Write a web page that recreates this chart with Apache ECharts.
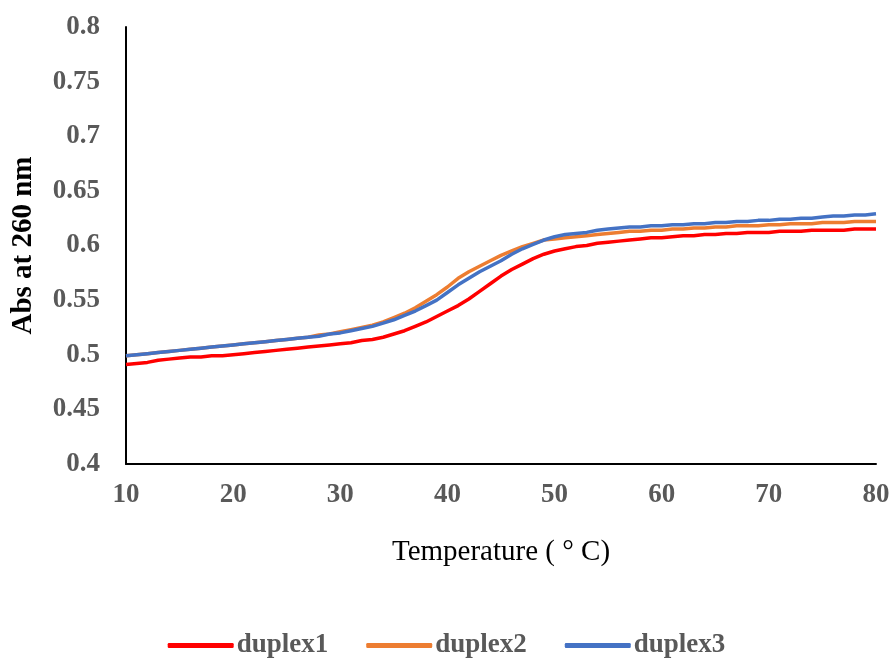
<!DOCTYPE html>
<html>
<head>
<meta charset="utf-8">
<script src="https://cdn.jsdelivr.net/npm/echarts@6/dist/echarts.min.js"></script>
<style>html,body{margin:0;padding:0;background:#fff}#c{width:893px;height:659px}</style>
</head>
<body>
<div id="c"></div>
<script>
const temperature = [];
for (let t = 10; t <= 80; t++) temperature.push(t);

const duplex1 = [0.491,0.492,0.493,0.495,0.496,0.497,0.498,0.498,0.499,0.499,
0.500,0.501,0.502,0.503,0.504,0.505,0.506,0.507,0.508,0.509,
0.510,0.511,0.513,0.514,0.516,0.519,0.522,0.526,0.530,0.535,
0.540,0.545,0.551,0.558,0.565,0.572,0.578,0.583,0.588,0.592,
0.595,0.597,0.599,0.600,0.602,0.603,0.604,0.605,0.606,0.607,
0.607,0.608,0.609,0.609,0.610,0.610,0.611,0.611,0.612,0.612,
0.612,0.613,0.613,0.613,0.614,0.614,0.614,0.614,0.615,0.615,0.615];

const duplex2 = [0.499,0.500,0.501,0.502,0.503,0.504,0.505,0.506,0.507,0.508,
0.509,0.510,0.511,0.512,0.513,0.514,0.515,0.516,0.518,0.519,
0.521,0.523,0.525,0.527,0.530,0.534,0.538,0.543,0.549,0.555,
0.562,0.570,0.576,0.581,0.586,0.591,0.595,0.599,0.602,0.605,
0.606,0.607,0.608,0.609,0.610,0.611,0.612,0.613,0.613,0.614,
0.614,0.615,0.615,0.616,0.616,0.617,0.617,0.618,0.618,0.618,
0.619,0.619,0.620,0.620,0.620,0.621,0.621,0.621,0.622,0.622,0.622];

const duplex3 = [0.499,0.500,0.501,0.502,0.503,0.504,0.505,0.506,0.507,0.508,
0.509,0.510,0.511,0.512,0.513,0.514,0.515,0.516,0.517,0.519,
0.520,0.522,0.524,0.526,0.529,0.532,0.536,0.540,0.545,0.550,
0.557,0.564,0.570,0.576,0.581,0.586,0.592,0.597,0.601,0.605,
0.608,0.610,0.611,0.612,0.614,0.615,0.616,0.617,0.617,0.618,
0.618,0.619,0.619,0.620,0.620,0.621,0.621,0.622,0.622,0.623,
0.623,0.624,0.624,0.625,0.625,0.626,0.627,0.627,0.628,0.628,0.629];

const seriesNames = ['duplex1','duplex2','duplex3'];
const seriesData = [duplex1, duplex2, duplex3];
const colors = ['#FF0000','#ED7D31','#4472C4'];

const serif = '"Liberation Serif","Times New Roman",serif';
const chart = echarts.init(document.getElementById('c'));
chart.setOption({
  animation: false,
  color: colors,
  grid: {left: 126, right: 17, top: 27, bottom: 195},
  legend: {
    data: seriesNames,
    bottom: -5,
    left: 'center',
    icon: 'roundRect',
    itemWidth: 66,
    itemHeight: 5,
    itemGap: 38,
    textStyle: {fontFamily: serif, fontWeight: 'bold', fontSize: 27, color: '#595959', padding: [0,0,0,-2]}
  },
  xAxis: {
    type: 'value', min: 10, max: 80, interval: 10,
    name: 'Temperature ( \u00B0 C)',
    nameLocation: 'middle', nameGap: 74,
    nameTextStyle: {fontFamily: serif, fontSize: 29, color: '#000'},
    axisLine: {lineStyle: {color: '#000', width: 2}},
    axisTick: {show: false},
    splitLine: {show: false},
    axisLabel: {fontFamily: serif, fontWeight: 'bold', fontSize: 27, color: '#595959', margin: 18}
  },
  yAxis: {
    type: 'value', min: 0.4, max: 0.8, interval: 0.05,
    name: 'Abs at 260 nm',
    nameLocation: 'middle', nameGap: 88,
    nameTextStyle: {fontFamily: serif, fontWeight: 'bold', fontSize: 29, color: '#000'},
    axisLine: {show: true, lineStyle: {color: '#000', width: 2}},
    axisTick: {show: false},
    splitLine: {show: false},
    axisLabel: {fontFamily: serif, fontWeight: 'bold', fontSize: 27, color: '#595959', margin: 26,
      formatter: v => String(parseFloat(v.toFixed(2)))}
  },
  series: seriesNames.map((n, i) => ({
    name: n, type: 'line', showSymbol: false, smooth: false,
    lineStyle: {width: 3.5, color: colors[i]},
    data: temperature.map((t, j) => [t, seriesData[i][j]])
  }))
});
</script>
</body>
</html>
